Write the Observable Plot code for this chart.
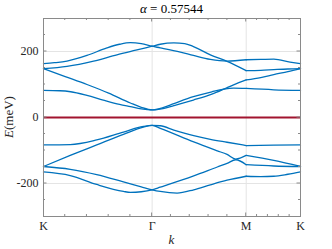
<!DOCTYPE html>
<html><head><meta charset="utf-8">
<script src="https://cdn.jsdelivr.net/npm/d3@7"></script>
<script src="https://cdn.jsdelivr.net/npm/@observablehq/plot@0.6"></script>
<style>body{margin:0;background:#fff} svg{display:block} svg text{font-family:"Liberation Serif",serif !important}</style>
</head><body><div id="chart"></div>
<script>
const alphaValue = "0.57544";
const kPoints = [0, 1, 1.866, 2.366];
const kLabels = ["K", "Γ", "M", "K"];
const yTicks = [-200, 0, 200];
const yMinor = [-250, -150, -100, -50, 50, 100, 150, 250];

const bandU1 = [[0,163],[0.1,166],[0.216,171],[0.4,188],[0.584,211],[0.7,222],[0.8,227],[0.9,224],[1.0,216],[1.075,211],[1.26,198],[1.38,188],[1.536,176],[1.69,171],[1.866,175],[2.0,176],[2.12,177],[2.27,168],[2.366,163]];
const bandU2 = [[0,148],[0.216,155],[0.461,171],[0.676,190],[0.85,204],[1.0,216],[1.075,222],[1.2,226],[1.3,224],[1.38,215],[1.536,190],[1.69,170],[1.866,142],[2.0,143],[2.12,145],[2.25,147],[2.366,148]];
const bandU3 = [[0,148],[0.2,124],[0.4,100],[0.6,74],[0.8,44],[0.9,31],[1.0,23],[1.1,27],[1.2,36],[1.38,53],[1.55,71],[1.66,86],[1.75,99],[1.866,114],[2.0,121],[2.12,130],[2.25,139],[2.366,148]];
const bandU4 = [[0,82],[0.15,81],[0.25,78],[0.4,67],[0.55,53],[0.7,40],[0.8,33],[0.9,26],[1.0,23],[1.1,30],[1.2,42],[1.38,63],[1.55,78],[1.66,86],[1.75,89],[1.866,88],[2.12,84],[2.366,82]];
const bandN1 = [[0,-83],[0.246,-82],[0.49,-68],[0.736,-44],[0.92,-27],[1.0,-24],[1.075,-25],[1.2,-38],[1.383,-55],[1.536,-66],[1.69,-75],[1.866,-85],[2.12,-84],[2.366,-83]];
const bandN2 = [[0,-148.5],[0.246,-115],[0.49,-83],[0.736,-51],[0.92,-29],[1.0,-24],[1.075,-33],[1.383,-74],[1.6,-101],[1.69,-112],[1.77,-126],[1.866,-115],[2.12,-130],[2.366,-148.5]];
const bandN3 = [[0,-148.5],[0.246,-157],[0.49,-173],[0.736,-195],[0.9,-210],[1.0,-219],[1.075,-224],[1.23,-229],[1.383,-219],[1.536,-204],[1.69,-190],[1.866,-178],[2.0,-179],[2.12,-178],[2.25,-172],[2.366,-165]];
const bandN4 = [[0,-165],[0.246,-176],[0.49,-203],[0.736,-224],[0.8,-227],[0.9,-225],[1.0,-219],[1.075,-211],[1.383,-177],[1.6,-150],[1.69,-139],[1.77,-128],[1.866,-143],[2.12,-147],[2.366,-148.5]];
const bands = [bandU1, bandU2, bandU3, bandU4, bandN1, bandN2, bandN3, bandN4];

const blue = "#0072BD", red = "#A2142F", axisColor = "#8a8a8a";
const serif = "'Liberation Serif', serif";
const kM = kPoints[2], kEnd = kPoints[3];
const segments = [[kPoints[0], kM], [kM, kEnd]];
const data = [];
bands.forEach((b, i) => {
  segments.forEach(([a, c], s) => {
    b.filter(([k]) => k >= a - 1e-9 && k <= c + 1e-9)
     .forEach(([k, E]) => data.push({k, E, seg: i + "-" + s}));
  });
});

const xMinor = [];
for (let s = 0; s < 3; s++) {
  const a = kPoints[s], c = kPoints[s + 1];
  for (let j = 1; j < 5; j++) xMinor.push(a + j * (c - a) / 5);
}

function tickMarks(index, scales, values, dims) {
  const g = d3.create("svg:g").attr("stroke", axisColor).attr("stroke-width", 1).attr("fill", "none");
  const L = dims.marginLeft, T = dims.marginTop, R = dims.width - dims.marginRight, B = dims.height - dims.marginBottom;
  const vt = (x, len) => {
    g.append("line").attr("x1", x).attr("x2", x).attr("y1", B).attr("y2", B - len);
    g.append("line").attr("x1", x).attr("x2", x).attr("y1", T).attr("y2", T + len);
  };
  const ht = (y, len) => {
    g.append("line").attr("y1", y).attr("y2", y).attr("x1", L).attr("x2", L + len);
    g.append("line").attr("y1", y).attr("y2", y).attr("x1", R).attr("x2", R - len);
  };
  kPoints.slice(1, -1).forEach(k => vt(scales.x(k), 3.5));
  xMinor.forEach(k => vt(scales.x(k), 2));
  yTicks.forEach(v => ht(scales.y(v), 3.5));
  yMinor.forEach(v => ht(scales.y(v), 2));
  return g.node();
}

const plot = Plot.plot({
  width: 332, height: 249,
  marginLeft: 43, marginRight: 32, marginTop: 18, marginBottom: 33,
  x: {domain: [kPoints[0], kEnd]},
  y: {domain: [-300, 300]},
  style: {fontFamily: serif, background: "#fff", color: "#262626"},
  marks: [
    Plot.gridX(kPoints.slice(1, -1), {stroke: "#e4e4e4", strokeOpacity: 1}),
    Plot.gridY(yTicks, {stroke: "#e4e4e4", strokeOpacity: 1}),
    Plot.line(data, {x: "k", y: "E", z: "seg", stroke: blue, strokeWidth: 1.3, curve: "monotone-x"}),
    Plot.ruleY([0], {stroke: red, strokeWidth: 1.8}),
    Plot.frame({stroke: axisColor}),
    tickMarks,
    Plot.axisX(kPoints, {anchor: "bottom", tickSize: 0, tickPadding: 5, fontSize: 12, label: null,
      tickFormat: d => kLabels[kPoints.indexOf(d)]}),
    Plot.axisY(yTicks, {anchor: "left", tickSize: 0, tickPadding: 5, fontSize: 12, label: null,
      tickFormat: d => String(d)})
  ]
});

const svg = d3.select(plot);
const xr = plot.scale("x").range, yr = plot.scale("y").range;
const cx = (xr[0] + xr[1]) / 2, cy = (yr[0] + yr[1]) / 2;
const t = svg.append("text").attr("x", cx).attr("y", 12.5).attr("text-anchor", "middle")
  .attr("font-size", 13).attr("fill", "#000").style("font-family", serif);
t.append("tspan").attr("font-style", "italic").text("α");
t.append("tspan").text(" = " + alphaValue);
const yl = svg.append("text").attr("transform", `translate(12.5,${cy}) rotate(-90)`).attr("text-anchor", "middle")
  .attr("font-size", 13).attr("fill", "#262626").style("font-family", serif);
yl.append("tspan").attr("font-style", "italic").text("E");
yl.append("tspan").text("(meV)");
svg.append("text").attr("x", cx).attr("y", 244).attr("text-anchor", "middle").attr("font-style", "italic")
  .attr("font-size", 13).attr("fill", "#262626").style("font-family", serif).text("k");

document.getElementById("chart").appendChild(plot);
</script></body></html>
